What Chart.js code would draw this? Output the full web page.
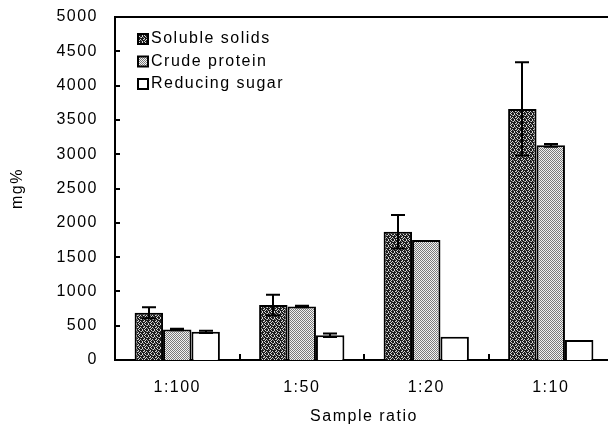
<!DOCTYPE html>
<html><head><meta charset="utf-8">
<script src="https://cdn.jsdelivr.net/npm/chart.js@4"></script>
<style>
html,body{margin:0;padding:0;overflow:hidden;background:#fff;width:608px;height:430px}
#wrap{width:616px;height:430px}
</style></head>
<body><div id="wrap"><canvas id="c" width="616" height="430"></canvas></div>
<script>
const categories = ['1:100', '1:50', '1:20', '1:10'];
const seriesNames = ['Soluble solids', 'Crude protein', 'Reducing sugar'];
const solubleSolids = [690, 800, 1870, 3660];
const solubleSolidsErr = [80, 150, 245, 680];
const crudeProtein = [445, 780, 1750, 3130];
const crudeProteinErr = [10, 10, 0, 20];
const reducingSugar = [410, 360, 340, 292];
const reducingSugarErr = [15, 25, 0, 0];
const yTickValues = [0, 500, 1000, 1500, 2000, 2500, 3000, 3500, 4000, 4500, 5000];

const FONT = {family: '"Liberation Sans", Arial, sans-serif', size: 16};
const SPACING = '1.5px';

function makePattern(kind) {
  const n = 6;
  const cv = document.createElement('canvas');
  cv.width = n; cv.height = n;
  const c = cv.getContext('2d');
  if (kind === 'dark') {
    c.fillStyle = '#1c1c1c'; c.fillRect(0, 0, n, n);
    c.fillStyle = '#d8d8d8';
    const pts = [[1,0],[4,0],[0,2],[3,1],[2,3],[5,3],[1,4],[4,5],[0,5]];
    pts.forEach(p => c.fillRect(p[0], p[1], 1, 1));
    c.fillStyle = '#8a8a8a';
    [[2,1],[5,1],[3,4],[0,3]].forEach(p => c.fillRect(p[0], p[1], 1, 1));
  } else if (kind === 'light') {
    c.fillStyle = '#f2f2f2'; c.fillRect(0, 0, n, n);
    c.fillStyle = '#7a7a7a';
    for (let y = 0; y < n; y++) for (let x = 0; x < n; x++) {
      if ((x + y) % 2 === 0) c.fillRect(x, y, 1, 1);
    }
  } else {
    c.fillStyle = '#ffffff'; c.fillRect(0, 0, n, n);
  }
  return document.getElementById('c').getContext('2d').createPattern(cv, 'repeat');
}

const fills = [makePattern('dark'), makePattern('light'), '#ffffff'];
const values = [solubleSolids, crudeProtein, reducingSugar];
const errors = [solubleSolidsErr, crudeProteinErr, reducingSugarErr];

const helper = {
  id: 'helper',
  beforeUpdate(chart) { chart.ctx.letterSpacing = SPACING; },
  beforeDraw(chart) { chart.ctx.letterSpacing = SPACING; },
  afterDatasetsDraw(chart) {
    const ctx = chart.ctx;
    const y = chart.scales.y;
    ctx.save();
    ctx.strokeStyle = '#000';
    ctx.lineWidth = 2;
    chart.data.datasets.forEach((ds, di) => {
      const meta = chart.getDatasetMeta(di);
      meta.data.forEach((bar, i) => {
        const e = errors[di][i];
        if (!e) return;
        const v = values[di][i];
        const x = Math.round(bar.x);
        const yt = y.getPixelForValue(v + e);
        const yb = y.getPixelForValue(v - e);
        ctx.beginPath();
        ctx.moveTo(x, yt); ctx.lineTo(x, yb);
        ctx.moveTo(x - 7, yt); ctx.lineTo(x + 7, yt);
        ctx.moveTo(x - 7, yb); ctx.lineTo(x + 7, yb);
        ctx.stroke();
      });
    });
    ctx.restore();
  },
  afterDraw(chart) {
    const ctx = chart.ctx;
    const a = chart.chartArea;
    const xs = chart.scales.x, ys = chart.scales.y;
    ctx.save();
    ctx.strokeStyle = '#000';
    ctx.lineWidth = 2;
    ctx.beginPath();
    ctx.moveTo(a.left, a.top); ctx.lineTo(a.right, a.top);
    ys.ticks.forEach(t => {
      const py = Math.round(ys.getPixelForValue(t.value));
      ctx.moveTo(a.left, py); ctx.lineTo(a.left + 5, py);
    });
    for (let i = 0; i < categories.length - 1; i++) {
      const px = Math.round((xs.getPixelForValue(i) + xs.getPixelForValue(i + 1)) / 2);
      ctx.moveTo(px, a.bottom); ctx.lineTo(px, a.bottom - 6);
    }
    ctx.stroke();
    ctx.letterSpacing = SPACING;
    ctx.font = FONT.size + 'px ' + FONT.family;
    ctx.textBaseline = 'middle';
    ctx.textAlign = 'left';
    const lx = a.left + 23, ly0 = a.top + 22, step = 22.5;
    chart.data.datasets.forEach((ds, di) => {
      const cy = ly0 + di * step;
      ctx.fillStyle = fills[di];
      ctx.fillRect(lx, cy - 5, 10, 10);
      ctx.lineWidth = 2;
      ctx.strokeStyle = '#000';
      ctx.strokeRect(lx, cy - 5, 10, 10);
      ctx.fillStyle = '#000';
      ctx.fillText(ds.label, lx + 13, cy);
    });
    ctx.restore();
  }
};

new Chart(document.getElementById('c'), {
  type: 'bar',
  data: {
    labels: categories,
    datasets: seriesNames.map((name, i) => ({
      label: name,
      data: values[i],
      backgroundColor: fills[i],
      borderColor: '#000',
      borderWidth: 2,
      borderSkipped: 'bottom',
      categoryPercentage: 0.685,
      barPercentage: 1.0
    }))
  },
  options: {
    responsive: false,
    animation: false,
    devicePixelRatio: 1,
    layout: {padding: {top: 17, right: 3, left: 0, bottom: 0}},
    plugins: {legend: {display: false}, tooltip: {enabled: false}},
    scales: {
      x: {
        grid: {display: false},
        border: {display: true, color: '#000', width: 2},
        ticks: {color: '#000', font: FONT, padding: 10, maxRotation: 0},
        title: {display: true, text: 'Sample ratio', color: '#000', font: FONT, padding: {top: 0, bottom: 4}},
        afterFit: s => { s.height = 70; }
      },
      y: {
        min: 0, max: 5000,
        grid: {display: false},
        border: {display: true, color: '#000', width: 2},
        afterBuildTicks: s => { s.ticks = yTickValues.map(v => ({value: v})); },
        ticks: {color: '#000', font: FONT, padding: 9, callback: v => String(v)},
        title: {display: true, text: 'mg%', color: '#000', font: FONT, padding: {top: 8, bottom: 0}},
        afterFit: s => { s.width = 115; s.paddingTop = 0; s.paddingBottom = 0; }
      }
    }
  },
  plugins: [helper]
});
</script>
</body></html>
